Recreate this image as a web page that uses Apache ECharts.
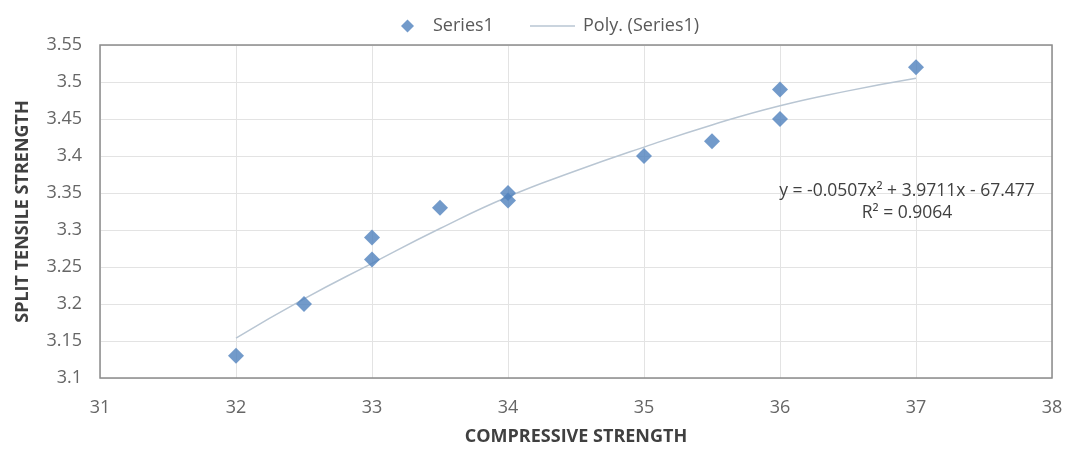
<!DOCTYPE html>
<html><head><meta charset="utf-8">
<script src="https://cdn.jsdelivr.net/npm/echarts@6/dist/echarts.min.js"></script>
<style>html,body{margin:0;padding:0;background:#fff}#c{width:1082px;height:452px}</style>
</head><body><div id="c"></div>
<script>
const compressive = [32, 32.5, 33, 33, 33.5, 34, 34, 35, 35.5, 36, 36, 37];
const splitTensile = [3.13, 3.20, 3.29, 3.26, 3.33, 3.35, 3.34, 3.40, 3.42, 3.49, 3.45, 3.52];
const trendX = [32, 32.5, 33, 33.5, 34, 34.5, 35, 35.5, 36, 36.5, 37];
const trendY = [3.154, 3.207, 3.255, 3.302, 3.345, 3.380, 3.412, 3.442, 3.468, 3.488, 3.505];
const equationText = 'y = -0.0507x² + 3.9711x - 67.477';
const r2Text = 'R² = 0.9064';
const xTitle = 'COMPRESSIVE STRENGTH';
const yTitle = 'SPLIT TENSILE STRENGTH';

const font = 'Open Sans, Liberation Sans, sans-serif';
const legendText = {color: '#595959', fontSize: 18, fontFamily: font};
const chart = echarts.init(document.getElementById('c'));
chart.setOption({
  animation: false,
  textStyle: {fontFamily: font},
  legend: [
    {
      top: 12, left: 396, itemWidth: 13, itemHeight: 13,
      textStyle: Object.assign({padding: [0, 0, 0, 14]}, legendText),
      data: [{name: 'Series1', icon: 'diamond', itemStyle: {color: '#4f81bd'}}]
    },
    {
      top: 12, left: 525, itemWidth: 45, itemHeight: 12,
      textStyle: Object.assign({padding: [0, 0, 0, 3]}, legendText),
      data: [{name: 'Poly. (Series1)', icon: 'path://M0,0h60v2h-60z', itemStyle: {color: '#b9c6d3'}}]
    }
  ],
  grid: {left: 100, right: 30, top: 45, bottom: 74},
  xAxis: {
    type: 'value', min: 31, max: 38, interval: 1,
    name: xTitle, nameLocation: 'middle', nameGap: 50,
    nameTextStyle: {color: '#404040', fontSize: 18, fontWeight: 'bold', fontFamily: font},
    axisLine: {show: false}, axisTick: {show: false},
    axisLabel: {color: '#666666', fontSize: 18, margin: 21},
    splitLine: {show: true, lineStyle: {color: '#e3e3e3', width: 1}}
  },
  yAxis: {
    type: 'value', min: 3.1, max: 3.55, interval: 0.05,
    name: yTitle, nameLocation: 'middle', nameGap: 68, nameRotate: 90,
    nameTextStyle: {color: '#404040', fontSize: 18, fontWeight: 'bold', fontFamily: font},
    axisLine: {show: false}, axisTick: {show: false},
    axisLabel: {color: '#666666', fontSize: 18, margin: 18,
      formatter: v => String(parseFloat(v.toFixed(2)))},
    splitLine: {show: true, lineStyle: {color: '#e3e3e3', width: 1}}
  },
  graphic: [
    {type: 'rect', shape: {x: 100, y: 45, width: 952, height: 333},
     style: {fill: 'none', stroke: '#8c8c8c', lineWidth: 1.5}, silent: true, z: 10},
    {type: 'text', x: 907, y: 191, style: {text: equationText, fill: '#404040', fontSize: 17.5, fontFamily: font, align: 'center', verticalAlign: 'middle'}, z: 20},
    {type: 'text', x: 907, y: 213, style: {text: r2Text, fill: '#404040', fontSize: 17.5, fontFamily: font, align: 'center', verticalAlign: 'middle'}, z: 20}
  ],
  series: [
    {
      name: 'Poly. (Series1)', type: 'line', smooth: true, showSymbol: false,
      data: trendX.map((x, i) => [x, trendY[i]]),
      lineStyle: {color: '#b9c6d3', width: 1.5}, itemStyle: {color: '#b9c6d3'}, z: 2
    },
    {
      name: 'Series1', type: 'scatter', symbol: 'diamond', symbolSize: 16,
      data: compressive.map((x, i) => [x, splitTensile[i]]),
      itemStyle: {color: '#4f81bd'}, z: 3
    }
  ]
});
</script></body></html>
